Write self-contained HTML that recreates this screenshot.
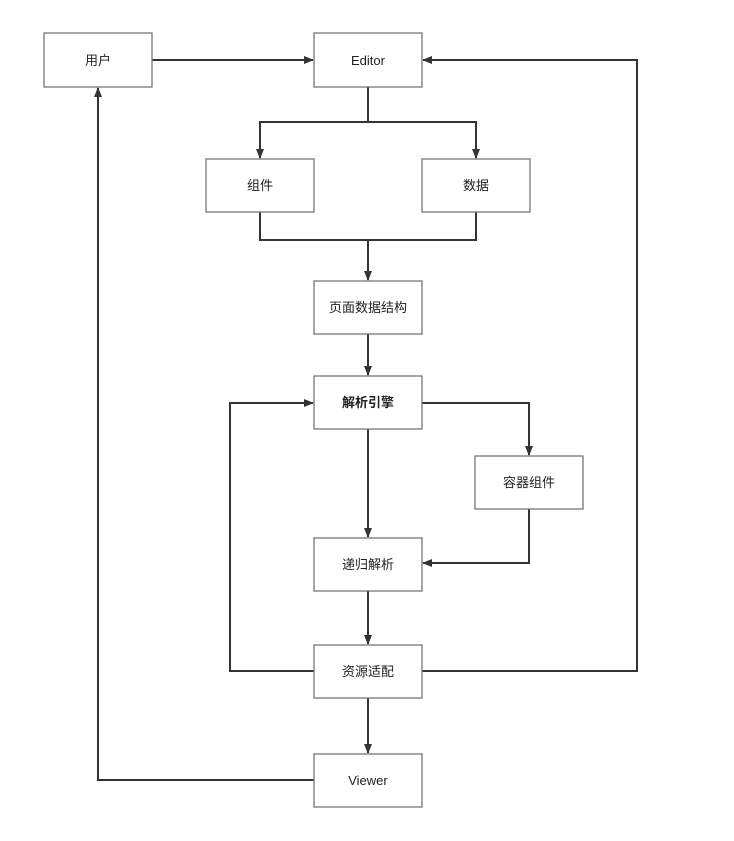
<!DOCTYPE html>
<html><head><meta charset="utf-8"><style>
html,body{margin:0;padding:0;background:#fff;}
svg{display:block;}
text{font-family:"Liberation Sans","Noto Sans CJK SC",sans-serif;font-size:13px;fill:#222;}
</style></head><body>
<svg width="734" height="841" viewBox="0 0 734 841" xmlns="http://www.w3.org/2000/svg">
<defs><marker id="a" markerWidth="10" markerHeight="10" refX="9" refY="5" orient="auto" markerUnits="userSpaceOnUse"><path d="M0,1 L10,5 L0,9 Z" fill="#333"/></marker></defs>
<g fill="none" stroke="#333" stroke-width="2">
<path d="M152,60 H313" marker-end="url(#a)"/>
<path d="M368,87 V122 H260 V158" marker-end="url(#a)"/>
<path d="M368,122 H476 V158" marker-end="url(#a)"/>
<path d="M260,212 V240 H476 V212"/>
<path d="M368,240 V280" marker-end="url(#a)"/>
<path d="M368,334 V375" marker-end="url(#a)"/>
<path d="M368,429 V537" marker-end="url(#a)"/>
<path d="M422,403 H529 V455" marker-end="url(#a)"/>
<path d="M529,509 V563 H423" marker-end="url(#a)"/>
<path d="M368,591 V644" marker-end="url(#a)"/>
<path d="M314,671 H230 V403 H313" marker-end="url(#a)"/>
<path d="M422,671 H637 V60 H423" marker-end="url(#a)"/>
<path d="M368,698 V753" marker-end="url(#a)"/>
<path d="M314,780 H98 V88" marker-end="url(#a)"/>
</g>
<g fill="#fff" stroke="#777" stroke-width="1.3">
<rect x="44" y="33" width="108" height="54"/>
<rect x="314" y="33" width="108" height="54"/>
<rect x="206" y="159" width="108" height="53"/>
<rect x="422" y="159" width="108" height="53"/>
<rect x="314" y="281" width="108" height="53"/>
<rect x="314" y="376" width="108" height="53"/>
<rect x="475" y="456" width="108" height="53"/>
<rect x="314" y="538" width="108" height="53"/>
<rect x="314" y="645" width="108" height="53"/>
<rect x="314" y="754" width="108" height="53"/>
</g>
<g text-anchor="middle">
<text x="98" y="65">用户</text>
<text x="368" y="65">Editor</text>
<text x="260" y="190">组件</text>
<text x="476" y="190">数据</text>
<text x="368" y="312">页面数据结构</text>
<text x="368" y="407" style="font-weight:bold">解析引擎</text>
<text x="529" y="487">容器组件</text>
<text x="368" y="569">递归解析</text>
<text x="368" y="676">资源适配</text>
<text x="368" y="785">Viewer</text>
</g>
</svg>
</body></html>
